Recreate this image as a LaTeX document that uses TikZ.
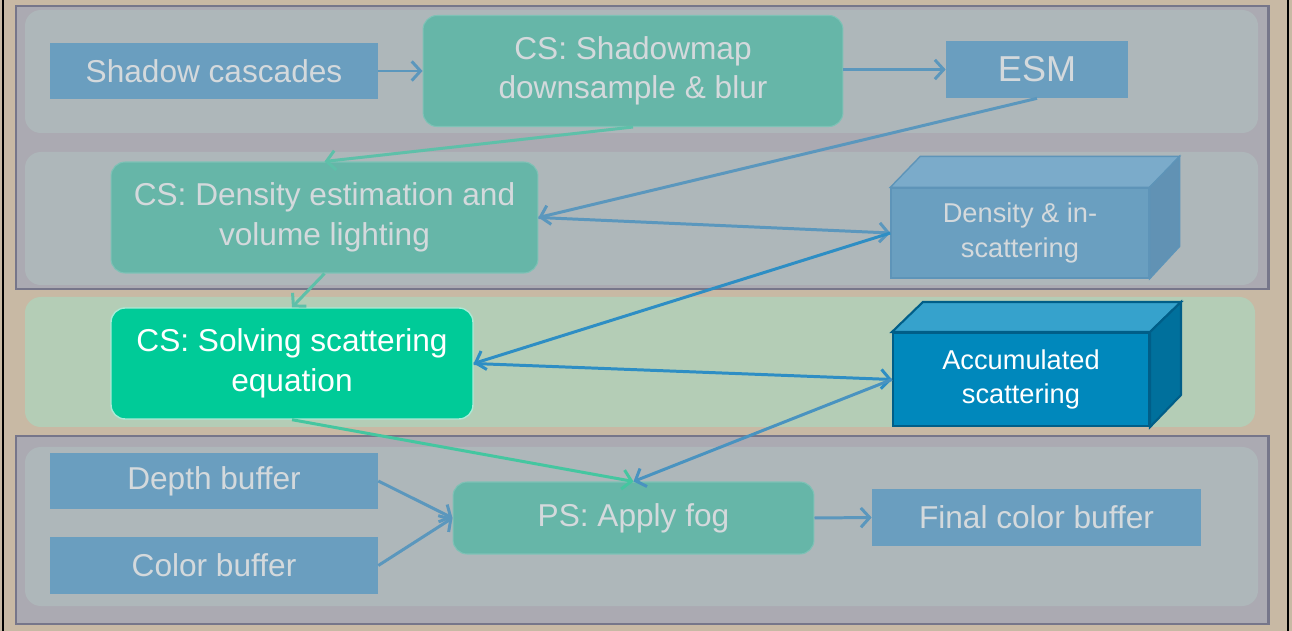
\documentclass[tikz,border=0pt]{standalone}
\usepackage{fontspec}
\setmainfont{Liberation Sans}
\usetikzlibrary{arrows.meta,calc}
\definecolor{bg}{HTML}{C8B9A4}
\definecolor{grpfill}{HTML}{ABAAB2}
\definecolor{grpedge}{HTML}{76768A}
\definecolor{bandfill}{HTML}{AEB7BA}
\definecolor{greenband}{HTML}{B4CDB6}
\definecolor{boxblue}{HTML}{6A9EBF}
\definecolor{boxteal}{HTML}{66B6A8}
\definecolor{tealedge}{HTML}{7EC2B6}
\definecolor{mutedtext}{HTML}{D4D9DC}
\definecolor{brightgreen}{HTML}{00CB98}
\definecolor{brightedge}{HTML}{A8EBD6}
\definecolor{densfront}{HTML}{6A9FC0}
\definecolor{denstop}{HTML}{7BABCA}
\definecolor{densright}{HTML}{6192B4}
\definecolor{densedge}{HTML}{5E94B8}
\definecolor{accfront}{HTML}{0088BC}
\definecolor{acctop}{HTML}{36A2CC}
\definecolor{accright}{HTML}{00709C}
\definecolor{accedge}{HTML}{005E88}
\definecolor{mutedblue}{HTML}{5B97BD}
\definecolor{mutedgreen}{HTML}{5EC0A9}
\definecolor{activeblue}{HTML}{2E8EC4}
\definecolor{activegreen}{HTML}{45C6A0}
\begin{document}
\begin{tikzpicture}[x=0.02cm,y=-0.02cm,
  lbl/.style={rectangle, inner sep=0pt, align=center, font=\fontsize{18}{22.5}\selectfont},
  bluebox/.style={lbl, fill=boxblue, text=mutedtext},
  tealbox/.style={lbl, fill=boxteal, draw=tealedge, line width=0.6pt, rounded corners=8pt, text=mutedtext},
  cubefront/.style={lbl, font=\fontsize{15.5}{19.5}\selectfont},
  arr/.style={line width=1.7pt, -{Straight Barb[length=5pt,width=11pt]}},
  grp/.style={fill=grpfill, draw=grpedge, line width=1.7pt},
  band/.style={fill=bandfill, rounded corners=9pt}
]
\useasboundingbox (0,0) rectangle (1292,631);
\fill[bg] (0,0) rectangle (1292,631);
% groups and bands
\filldraw[grp] (16,6) rectangle (1268,289);
\fill[band] (25,10) rectangle (1258,133);
\fill[band] (25,152) rectangle (1258,285);
\fill[greenband, rounded corners=9pt] (25,297) rectangle (1255,427);
\filldraw[grp] (16,436) rectangle (1268,624);
\fill[band] (25,447) rectangle (1258,606);
% frame lines
\draw[black, line width=1.2pt] (3,0) -- (3,631);
\draw[black, line width=1.2pt] (1288,0) -- (1288,631);
% nodes
\node[bluebox, minimum width=6.56cm, minimum height=1.12cm] (sc) at (214,71) {Shadow cascades};
\node[tealbox, minimum width=8.4cm, minimum height=2.22cm] (csm) at (633,71) {CS: Shadowmap\\downsample \& blur};
\node[bluebox, minimum width=3.64cm, minimum height=1.14cm, font=\fontsize{20.5}{24}\selectfont] (esm) at (1037,69.5) {ESM};
\node[tealbox, minimum width=8.54cm, minimum height=2.22cm] (csd) at (324.5,217.5) {CS: Density estimation and\\volume lighting};
\node[cubefront, fill=densfront, draw=densedge, line width=0.8pt, text=mutedtext, minimum width=5.16cm, minimum height=1.8cm] (dens) at (1020,233) {Density \& in-\\scattering};
\fill[denstop, draw=densedge, line width=0.8pt] (dens.north west) -- ++(30,-31) -- ($(dens.north east)+(30,-31)$) -- (dens.north east) -- cycle;
\fill[densright, draw=densedge, line width=0.8pt] (dens.north east) -- ++(30,-31) -- ++(0,90) -- (dens.south east) -- cycle;
\node[lbl, fill=brightgreen, draw=brightedge, line width=0.8pt, rounded corners=8pt, text=white, minimum width=7.24cm, minimum height=2.22cm] (css) at (292,363.5) {CS: Solving scattering\\equation};
\node[cubefront, fill=accfront, draw=accedge, line width=1.2pt, text=white, minimum width=5.12cm, minimum height=1.86cm] (acc) at (1021,379.5) {Accumulated\\scattering};
\fill[acctop, draw=accedge, line width=1.2pt] (acc.north west) -- ++(31,-30) -- ($(acc.north east)+(31,-30)$) -- (acc.north east) -- cycle;
\fill[accright, draw=accedge, line width=1.2pt] (acc.north east) -- ++(31,-30) -- ++(0,93) -- (acc.south east) -- cycle;
\node[bluebox, minimum width=6.56cm, minimum height=1.12cm] (depth) at (214,481) {Depth buffer};
\node[bluebox, minimum width=6.56cm, minimum height=1.14cm] (color) at (214,565.5) {Color buffer};
\node[tealbox, minimum width=7.22cm, minimum height=1.44cm] (fog) at (633.5,518) {PS: Apply fog};
\node[bluebox, minimum width=6.58cm, minimum height=1.14cm] (final) at (1036.5,517.5) {Final color buffer};
% connectors
\draw[arr, mutedblue] (sc.east) -- (csm.west |- sc.east);
\draw[arr, mutedblue] (csm.east |- esm.west) -- (esm.west);
\draw[arr, mutedgreen] (csm.south) -- (csd.north);
\draw[arr, mutedblue] (esm.south) -- (csd.east);
\draw[arr, mutedblue] (csd.east) -- (dens.west);
\draw[arr, mutedgreen] (csd.south) -- (css.north);
\draw[arr, activeblue] (dens.west) -- (css.east);
\draw[arr, activeblue] (css.east) -- (acc.west);
\draw[arr, activegreen] (css.south) -- (fog.north);
\draw[arr, mutedblue!60!activeblue] (acc.west) -- (fog.north);
\draw[arr, mutedblue] (depth.east) -- (fog.west);
\draw[arr, mutedblue] (color.east) -- (fog.west);
\draw[arr, mutedblue] (fog.east) -- (final.west);
\end{tikzpicture}
\end{document}
